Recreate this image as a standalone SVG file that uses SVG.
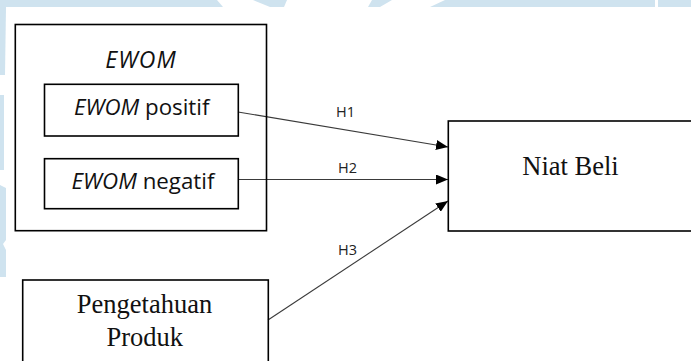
<svg xmlns="http://www.w3.org/2000/svg" width="691" height="361" viewBox="0 0 691 361">
<style>
.box{fill:none;stroke:#000;stroke-width:1.6}
.conn{stroke:#3a3a3a;stroke-width:1.1;fill:none}
.sans{font-family:"Open Sans","Noto Sans","Liberation Sans",sans-serif;fill:#111}
.serif{font-family:"Liberation Serif","Times New Roman",serif;fill:#111;font-size:26.5px}
.lbl{font-family:"Open Sans","Noto Sans","Liberation Sans",sans-serif;font-size:14.5px;fill:#222}
.wm{fill:#cfe3ef}
</style>
<defs>
<marker id="arr" viewBox="0 0 12 10" refX="12" refY="5" markerWidth="12" markerHeight="10" markerUnits="userSpaceOnUse" orient="auto">
<path d="M0,0 L12,5 L0,10 Z" fill="#000"/>
</marker>
</defs>
<rect width="691" height="361" fill="#fff"/>
<g id="watermark">
<polygon class="wm" points="0,0 217,0 223,7 0,7"/>
<polygon class="wm" points="253,0 287,0 284,7 270,7"/>
<polygon class="wm" points="372,0 392,0 380,7 368,7"/>
<polygon class="wm" points="445,0 655,0 655,7 430,7"/>
<polygon class="wm" points="658,0 691,0 691,7 658,7"/>
<polygon class="wm" points="0,7 6,7 5,75 0,75"/>
<polygon class="wm" points="0,95 4,95 4,170 0,170"/>
<polygon class="wm" points="0,185 6,188 6,240 3,244 6,250 6,277 0,277"/>
</g>
<g id="connectors">
<line class="conn" x1="238" y1="112" x2="448" y2="147" marker-end="url(#arr)"/>
<line class="conn" x1="238" y1="179.5" x2="448" y2="179.5" marker-end="url(#arr)"/>
<line class="conn" x1="268" y1="320" x2="448" y2="201" marker-end="url(#arr)"/>
<text class="lbl" x="345.5" y="116.7" text-anchor="middle">H1</text>
<text class="lbl" x="347.5" y="172.7" text-anchor="middle">H2</text>
<text class="lbl" x="347.5" y="255" text-anchor="middle">H3</text>
</g>
<g id="ewom">
<rect class="box" x="15.3" y="24.5" width="251.2" height="206.2"/>
<text class="sans" x="141" y="68" font-size="23" font-style="italic" letter-spacing="1" text-anchor="middle">EWOM</text>
</g>
<g id="ewom-positif">
<rect class="box" x="44.5" y="84.3" width="193.8" height="51.7"/>
<text class="sans" x="141.7" y="115" font-size="22.3" text-anchor="middle"><tspan font-style="italic">EWOM</tspan> positif</text>
</g>
<g id="ewom-negatif">
<rect class="box" x="44.5" y="158.7" width="193.8" height="50"/>
<text class="sans" x="143" y="189" font-size="22.3" text-anchor="middle"><tspan font-style="italic">EWOM</tspan> negatif</text>
</g>
<g id="niat-beli">
<rect class="box" x="448.3" y="121" width="260" height="110"/>
<text class="serif" x="570.5" y="175" text-anchor="middle">Niat Beli</text>
</g>
<g id="pengetahuan-produk">
<rect class="box" x="22.7" y="280" width="245.6" height="100"/>
<text class="serif" x="144.5" y="313.3" text-anchor="middle">Pengetahuan</text>
<text class="serif" x="144.7" y="345.7" text-anchor="middle">Produk</text>
</g>
</svg>
